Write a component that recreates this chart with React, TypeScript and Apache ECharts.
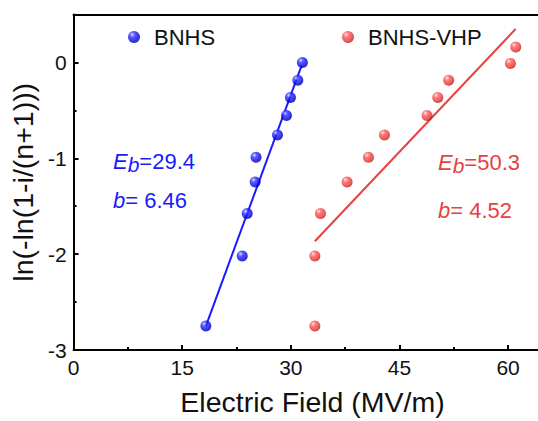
import React, { useEffect, useRef } from 'react';
import * as echarts from 'echarts';

// Data
const seriesNames = ['BNHS', 'BNHS-VHP'];
const bnhsField = [31.6, 30.97, 29.95, 29.4, 28.16, 25.2, 25.08, 23.98, 23.29, 18.27];
const bnhsWeibull = [0.0, -0.185, -0.365, -0.553, -0.756, -0.99, -1.247, -1.577, -2.02, -2.75];
const vhpField = [61.06, 60.32, 51.8, 50.29, 48.81, 42.93, 40.72, 37.77, 34.09, 33.32, 33.32];
const vhpWeibull = [0.16, -0.01, -0.185, -0.365, -0.553, -0.756, -0.99, -1.247, -1.577, -2.02, -2.75];
const bnhsFitField = [18.27, 31.5];
const bnhsFitWeibull = [-2.75, -0.03];
const vhpFitField = [33.32, 61.06];
const vhpFitWeibull = [-1.865, 0.35];
const bnhsEb = '29.4';
const bnhsB = '6.46';
const vhpEb = '50.3';
const vhpB = '4.52';
const xAxisTitle = 'Electric Field (MV/m)';
const yAxisTitle = 'ln(-ln(1-i/(n+1)))';

const FONT = "'Liberation Sans', Arial, sans-serif";
const BLUE = '#1a1aff';
const RED = '#e8403f';

const sphere = (hi: string, mid: string, body: string, edge: string) => ({
  type: 'radial',
  x: 0.35,
  y: 0.3,
  r: 0.75,
  colorStops: [
    { offset: 0, color: hi },
    { offset: 0.3, color: mid },
    { offset: 0.75, color: body },
    { offset: 1, color: edge },
  ],
});

const blueSphere = sphere('#d0d0ff', '#3030ff', '#0000e0', '#000090');
const redSphere = sphere('#ffe0e0', '#ff5a5a', '#e43030', '#a81818');

const zip = (xs: number[], ys: number[]) => xs.map((x, i) => [x, ys[i]]);

const annotation = (text: string, color: string, x: number, y: number) => ({
  type: 'text',
  x,
  y,
  style: {
    text,
    fill: color,
    font: `22px ${FONT}`,
    verticalAlign: 'middle',
    rich: {
      e: { fontFamily: FONT, fontSize: 22, fontStyle: 'italic', fill: color, color, lineHeight: 28 },
      s: {
        fontFamily: FONT,
        fontSize: 21,
        fontStyle: 'italic',
        fill: color,
        color,
        lineHeight: 16,
        verticalAlign: 'bottom',
      },
      n: { fontFamily: FONT, fontSize: 22, fill: color, color, lineHeight: 28 },
    },
  },
});

export default function App() {
  const ref = useRef<HTMLDivElement>(null);

  useEffect(() => {
    if (!ref.current) return;
    const chart = echarts.init(ref.current, undefined, { renderer: 'svg' });
    const legendBase = {
      orient: 'horizontal',
      icon: 'circle',
      itemWidth: 12,
      itemHeight: 12,
      itemGap: 0,
      top: 21,
      textStyle: {
        fontFamily: FONT,
        fontSize: 22,
        color: '#111',
        padding: [0, 0, 0, 9],
      },
    };
    chart.setOption({
      animation: false,
      backgroundColor: '#ffffff',
      grid: { left: 73.3, top: 14.5, bottom: 66, right: 8.5, containLabel: false },
      legend: [
        { ...legendBase, left: 123, data: [seriesNames[0]] },
        { ...legendBase, left: 337, data: [seriesNames[1]] },
      ],
      xAxis: [
        {
          type: 'value',
          min: 0,
          max: 66,
          interval: 15,
          name: xAxisTitle,
          nameLocation: 'middle',
          nameGap: 37,
          nameTextStyle: { fontFamily: FONT, fontSize: 28.5, color: '#111' },
          axisLine: { show: true, onZero: false, lineStyle: { color: '#000', width: 2 } },
          axisTick: { show: true, inside: true, length: 5, lineStyle: { color: '#000', width: 2 } },
          minorTick: { show: true, splitNumber: 2, length: 3, lineStyle: { color: '#000', width: 2 } },
          axisLabel: {
            fontFamily: FONT,
            fontSize: 21,
            color: '#111',
            margin: 7,
            showMaxLabel: false,
          },
          splitLine: { show: false },
        },
        {
          type: 'value',
          position: 'top',
          min: 0,
          max: 66,
          axisLine: { show: true, onZero: false, lineStyle: { color: '#000', width: 2 } },
          axisTick: { show: false },
          axisLabel: { show: false },
          splitLine: { show: false },
        },
      ],
      yAxis: {
        type: 'value',
        min: -3,
        max: 0.5,
        interval: 1,
        name: yAxisTitle,
        nameLocation: 'middle',
        nameRotate: 90,
        nameGap: 32,
        nameTextStyle: { fontFamily: FONT, fontSize: 28.5, color: '#111' },
        axisLine: { show: true, onZero: false, lineStyle: { color: '#000', width: 2 } },
        axisTick: { show: true, inside: true, length: 5, lineStyle: { color: '#000', width: 2 } },
        minorTick: { show: true, splitNumber: 2, length: 3, lineStyle: { color: '#000', width: 2 } },
        axisLabel: {
          fontFamily: FONT,
          fontSize: 21,
          color: '#111',
          margin: 7,
          showMaxLabel: false,
        },
        splitLine: { show: false },
      },
      series: [
        {
          name: seriesNames[0] + ' fit',
          type: 'line',
          data: zip(bnhsFitField, bnhsFitWeibull),
          symbol: 'none',
          lineStyle: { color: BLUE, width: 2 },
          z: 1,
        },
        {
          name: seriesNames[1] + ' fit',
          type: 'line',
          data: zip(vhpFitField, vhpFitWeibull),
          symbol: 'none',
          lineStyle: { color: RED, width: 2 },
          z: 1,
        },
        {
          name: seriesNames[0],
          type: 'scatter',
          data: zip(bnhsField, bnhsWeibull),
          symbol: 'circle',
          symbolSize: 11,
          itemStyle: { color: blueSphere },
          z: 3,
        },
        {
          name: seriesNames[1],
          type: 'scatter',
          data: zip(vhpField, vhpWeibull),
          symbol: 'circle',
          symbolSize: 11,
          itemStyle: { color: redSphere },
          z: 3,
        },
      ],
      graphic: [
        annotation(`{e|E}{s|b}{n|=${bnhsEb}}`, BLUE, 113, 161),
        annotation(`{e|b}{n|= ${bnhsB}}`, BLUE, 113, 200),
        annotation(`{e|E}{s|b}{n|=${vhpEb}}`, RED, 438, 162),
        annotation(`{e|b}{n|= ${vhpB}}`, RED, 438, 210),
      ],
    });
    return () => chart.dispose();
  }, []);

  return (
    <div
      style={{
        position: 'fixed',
        left: 0,
        top: 0,
        width: 538,
        height: 421,
        overflow: 'hidden',
        background: '#fff',
      }}
    >
      <div ref={ref} style={{ width: 560, height: 421 }} />
    </div>
  );
}
